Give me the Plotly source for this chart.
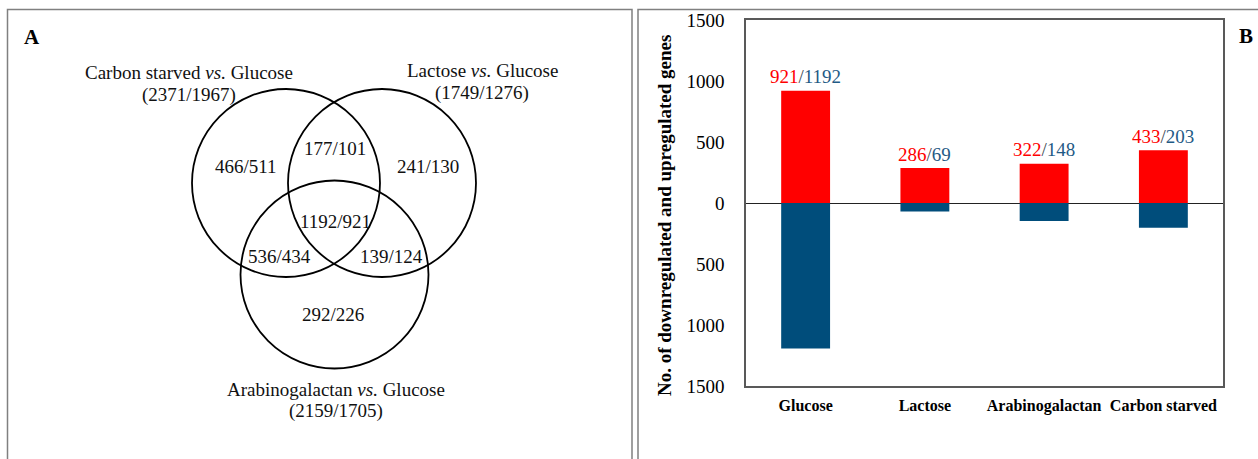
import plotly.graph_objects as go

# ---------------- data ----------------
categories = ["Glucose", "Lactose", "Arabinogalactan", "Carbon starved"]
up_counts = [921, 286, 322, 433]        # red (upper) bars
down_counts = [1192, 69, 148, 203]      # blue (lower) bars
y_ticks = [-1500, -1000, -500, 0, 500, 1000, 1500]
y_ticktext = [str(abs(v)) for v in y_ticks]

venn_set_names = ["Carbon starved <i>vs.</i> Glucose",
                  "Lactose <i>vs.</i> Glucose",
                  "Arabinogalactan <i>vs.</i> Glucose"]
venn_set_totals = ["(2371/1967)", "(1749/1276)", "(2159/1705)"]
venn_region_labels = ["466/511", "177/101", "241/130", "1192/921",
                      "536/434", "139/124", "292/226"]

# ---------------- styles / layout positions ----------------
W, H = 1258, 459
RED = "#FF0000"
BLUE = "#004D7B"
BLUE_TXT = "#1F5A85"
SLASH = "#3F4A55"
FONT = "Liberation Serif, Times New Roman, serif"

# Venn geometry (pixel space of the left panel)
circle_centers = [(286, 183), (382, 183), (334.5, 274.5)]
circle_r = 94
set_name_pos = [(189, 72), (482, 70), (336, 389)]
set_total_pos = [(189, 95), (482, 93), (336, 411)]
region_pos = [(246, 166), (335, 148), (428, 166), (335, 221),
              (279, 256), (391, 256), (333, 314)]

fig = go.Figure()

# ---------------- bar chart (panel B) ----------------
fig.add_trace(go.Bar(x=categories, y=up_counts, marker=dict(color=RED, line=dict(width=0)),
                     width=0.41, showlegend=False, xaxis="x", yaxis="y"))
fig.add_trace(go.Bar(x=categories, y=[-d for d in down_counts],
                     marker=dict(color=BLUE, line=dict(width=0)),
                     width=0.41, showlegend=False, xaxis="x", yaxis="y"))

annotations = []
for c, u, d in zip(categories, up_counts, down_counts):
    annotations.append(dict(
        x=c, y=u, xref="x", yref="y", yshift=14, showarrow=False,
        text=(f'<span style="color:{RED}">{u}</span>'
              f'<span style="color:{SLASH}">/</span>'
              f'<span style="color:{BLUE_TXT}">{d}</span>'),
        font=dict(family=FONT, size=19), xanchor="center", yanchor="middle"))

# y-axis title
annotations.append(dict(
    x=665 / W, y=1 - 215 / H, xref="paper", yref="paper", showarrow=False,
    text="<b>No. of downregulated and upregulated genes</b>", textangle=-90,
    font=dict(family=FONT, size=19, color="black"), xanchor="center", yanchor="middle"))

# panel letters
annotations.append(dict(x=32 / W, y=1 - 37 / H, xref="paper", yref="paper", showarrow=False,
                        text="<b>A</b>", font=dict(family=FONT, size=21, color="black"),
                        xanchor="center", yanchor="middle"))
annotations.append(dict(x=1246 / W, y=1 - 36 / H, xref="paper", yref="paper", showarrow=False,
                        text="<b>B</b>", font=dict(family=FONT, size=21, color="black"),
                        xanchor="center", yanchor="middle"))

# ---------------- Venn (panel A) ----------------
shapes = []
for (cx, cy) in circle_centers:
    shapes.append(dict(type="circle", xref="x2", yref="y2",
                       x0=cx - circle_r, x1=cx + circle_r, y0=cy - circle_r, y1=cy + circle_r,
                       line=dict(color="black", width=1.8), fillcolor="rgba(0,0,0,0)"))
for name, (x, y) in zip(venn_set_names, set_name_pos):
    annotations.append(dict(x=x, y=y, xref="x2", yref="y2", showarrow=False, text=name,
                            font=dict(family=FONT, size=19, color="#111"),
                            xanchor="center", yanchor="middle"))
for tot, (x, y) in zip(venn_set_totals, set_total_pos):
    annotations.append(dict(x=x, y=y, xref="x2", yref="y2", showarrow=False, text=tot,
                            font=dict(family=FONT, size=19, color="#111"),
                            xanchor="center", yanchor="middle"))
for lab, (x, y) in zip(venn_region_labels, region_pos):
    annotations.append(dict(x=x, y=y, xref="x2", yref="y2", showarrow=False, text=lab,
                            font=dict(family=FONT, size=19, color="#111"),
                            xanchor="center", yanchor="middle"))

# panel frames (bottom edges run off the image)
shapes.append(dict(type="rect", xref="paper", yref="paper",
                   x0=7.5 / W, x1=632 / W, y0=-0.1, y1=1 - 9.5 / H,
                   line=dict(color="#808080", width=1.5), layer="below"))
shapes.append(dict(type="rect", xref="paper", yref="paper",
                   x0=638 / W, x1=1.1, y0=-0.1, y1=1 - 9.5 / H,
                   line=dict(color="#808080", width=1.5), layer="below"))

fig.update_layout(
    width=W, height=H, autosize=False, margin=dict(l=0, r=0, t=0, b=0, pad=0),
    paper_bgcolor="white", plot_bgcolor="white",
    barmode="relative", bargap=0.59, showlegend=False,
    font=dict(family=FONT, color="black"),
    xaxis=dict(domain=[746 / W, 1223 / W], anchor="y", showline=True, mirror=True,
               linecolor="#595959", linewidth=1.5, ticks="", showgrid=False,
               automargin=False, fixedrange=True,
               tickfont=dict(family=FONT, size=16, color="black"),
               tickprefix="<b>", ticksuffix="</b>", ticklabelstandoff=4),
    yaxis=dict(domain=[1 - 386 / H, 1 - 20 / H], anchor="x", range=[-1500, 1500],
               tickvals=y_ticks, ticktext=y_ticktext, showline=True, mirror=True,
               linecolor="#595959", linewidth=1.5, ticks="", showgrid=False,
               automargin=False, fixedrange=True,
               zeroline=True, zerolinecolor="#222", zerolinewidth=1.2,
               tickfont=dict(family=FONT, size=19, color="black"), ticklabelstandoff=16),
    xaxis2=dict(domain=[0, 629 / W], range=[0, 629], anchor="y2", visible=False,
                showgrid=False, zeroline=False, automargin=False, fixedrange=True),
    yaxis2=dict(domain=[0, 1], range=[H, 0], anchor="x2", visible=False,
                showgrid=False, zeroline=False, automargin=False, fixedrange=True),
    shapes=shapes, annotations=annotations,
)

# dummy invisible trace to activate the Venn axes
fig.add_trace(go.Scatter(x=[0], y=[0], xaxis="x2", yaxis="y2", mode="markers",
                         marker=dict(opacity=0), showlegend=False, hoverinfo="skip"))

fig.write_html("out.html", config={"displayModeBar": False},
               post_script="document.body.style.margin='0';document.body.style.overflow='hidden';")
